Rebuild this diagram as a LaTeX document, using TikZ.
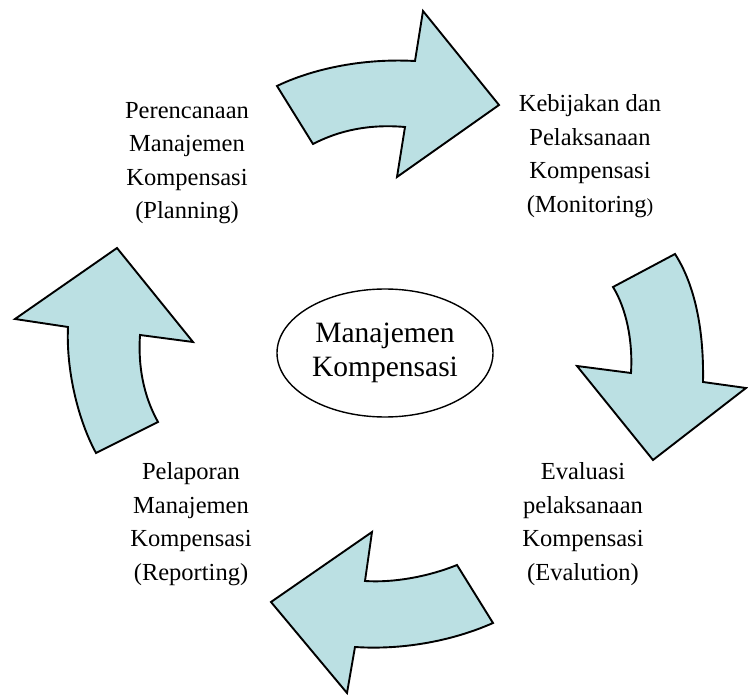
\documentclass[tikz,border=0pt]{standalone}
\usepackage{fontspec}
\setmainfont{Liberation Serif}
\usetikzlibrary{shapes.geometric}
\definecolor{arrowfill}{RGB}{187,224,227}
\begin{document}
\begin{tikzpicture}[x=1pt,y=-1pt,
  bigarrow/.style={draw=black,fill=arrowfill,line width=1.9pt,line join=miter},
  lbl/.style={align=center,inner sep=0pt,font=\fontsize{24.5}{33.5}\selectfont},
  hub/.style={draw=black,line width=1.4pt,ellipse,minimum width=216pt,minimum height=128pt,inner sep=0pt,align=center,font=\fontsize{29.5}{34}\selectfont}]
\useasboundingbox (0,0) rectangle (748,695);
% top arrow
\draw[bigarrow] (277,86) .. controls (310,70) and (360,58) .. (415,61)
  -- (423,11) -- (499,105) -- (397,177) -- (405,127)
  .. controls (370,124) and (340,130) .. (313,144) -- cycle;
% right arrow
\draw[bigarrow] (613,287) -- (675,254) .. controls (695,285) and (704,330) .. (703,382)
  -- (746,388) -- (653,460) -- (577,366) -- (631,373)
  .. controls (633,340) and (626,308) .. (613,287) -- cycle;
% bottom arrow
\draw[bigarrow] (493,623) -- (457,565) .. controls (430,576) and (395,583) .. (365,581)
  -- (372,532) -- (271,602) -- (347,693) -- (355,647)
  .. controls (400,650) and (450,642) .. (493,623) -- cycle;
% left arrow
\draw[bigarrow] (96,453) -- (158,422) .. controls (143,395) and (138,365) .. (140,335)
  -- (193,342) -- (117,248) -- (15,319) -- (68,327)
  .. controls (66,370) and (78,420) .. (96,453) -- cycle;
% center
\node[hub] (hub) at (385,353) {Manajemen\\Kompensasi};
% labels
\node[lbl] (plan) at (187,163) {Perencanaan\\Manajemen\\Kompensasi\\(Planning)};
\node[lbl] (mon) at (590,156) {Kebijakan dan\\Pelaksanaan\\Kompensasi\\(Monitoring{\fontsize{20}{20}\selectfont)}};
\node[lbl] (eval) at (583,524) {Evaluasi\\pelaksanaan\\Kompensasi\\(Evalution)};
\node[lbl] (rep) at (191,524) {Pelaporan\\Manajemen\\Kompensasi\\(Reporting)};
\end{tikzpicture}
\end{document}
